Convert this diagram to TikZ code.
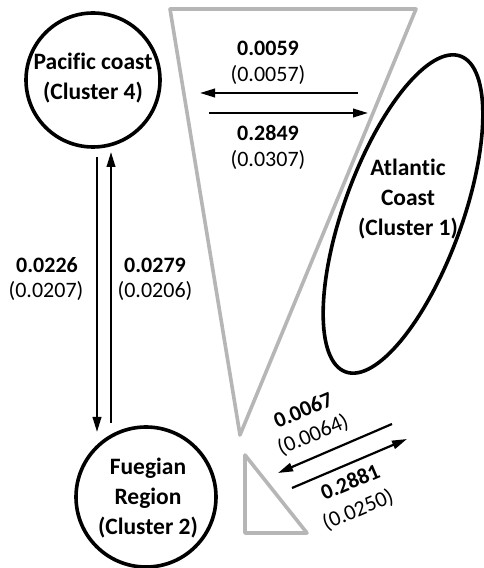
\documentclass[tikz,border=0pt]{standalone}
\usepackage{fontspec}
\setmainfont{Carlito}[Ligatures=NoCommon]
\usetikzlibrary{arrows.meta,shapes.geometric}
\begin{document}
\begin{tikzpicture}[x=1pt,y=1pt,
  region/.style={circle,draw=black,line width=3.6pt,inner sep=0pt},
  zone/.style={draw=zonegray,line width=3.6pt,line join=round},
  flow/.style={line width=2.2pt,-{Triangle[length=15pt,width=8.5pt]}},
  rate/.style={font=\fontsize{22}{26}\selectfont\bfseries,inner sep=0pt},
  serr/.style={font=\fontsize{22}{26}\selectfont,inner sep=0pt},
  cname/.style={font=\fontsize{23.5}{30}\selectfont\bfseries,align=center,inner sep=0pt}]
\definecolor{zonegray}{RGB}{182,182,182}
\useasboundingbox (0,0) rectangle (484,568);

% grey range outlines
\draw[zone] (170,559) -- (416,559) -- (240,133) -- cycle;
\draw[zone] (245,113) -- (245,35) -- (307,35) -- cycle;

% clusters
\node[region,minimum size=134pt] (pac) at (93,488) {};
\node[cname] (pactxt) at (93,490) {Pacific coast\\(Cluster 4)};
\node[region,minimum size=140pt] (fue) at (146,71) {};
\node[cname] (fuetxt) at (148,70) {Fuegian\\Region\\(Cluster 2)};
\node[ellipse,draw=black,line width=3.6pt,inner sep=0pt,
      minimum width=118pt,minimum height=336pt,rotate=-20] (atl) at (403,354) {};
\node[cname] (atltxt) at (408,369) {Atlantic\\Coast\\(Cluster 1)};

% arrow end points
\coordinate (pa1) at (97,411);  \coordinate (fu1) at (97,136);
\coordinate (fu2) at (111,145); \coordinate (pa2) at (111,416);
\coordinate (at1) at (358,475); \coordinate (pa3) at (200,475);
\coordinate (pa4) at (209,455); \coordinate (at2) at (368,455);
\coordinate (at3) at (392,144); \coordinate (fu3) at (278,95);
\coordinate (fu4) at (292,80);  \coordinate (at4) at (407,129);

% migration arrows
\draw[flow] (pa1) -- (fu1);
\draw[flow] (fu2) -- (pa2);
\draw[flow] (at1) -- (pa3);
\draw[flow] (pa4) -- (at2);
\draw[flow] (at3) -- (fu3);
\draw[flow] (fu4) -- (at4);

% rates and standard errors
\node[rate] (r1) at (268,520) {0.0059};
\node[serr] (s1) at (268,493) {(0.0057)};
\node[rate] (r2) at (268,435) {0.2849};
\node[serr] (s2) at (268,408) {(0.0307)};
\node[rate] (r3) at (47,303) {0.0226};
\node[serr] (s3) at (46,277) {(0.0207)};
\node[rate] (r4) at (155,303) {0.0279};
\node[serr] (s4) at (155,277) {(0.0206)};
\node[rate,rotate=23] (r5) at (303,158) {0.0067};
\node[serr,rotate=23] (s5) at (313,133) {(0.0064)};
\node[rate,rotate=23] (r6) at (350,86) {0.2881};
\node[serr,rotate=23] (s6) at (358,58) {(0.0250)};
\end{tikzpicture}
\end{document}
